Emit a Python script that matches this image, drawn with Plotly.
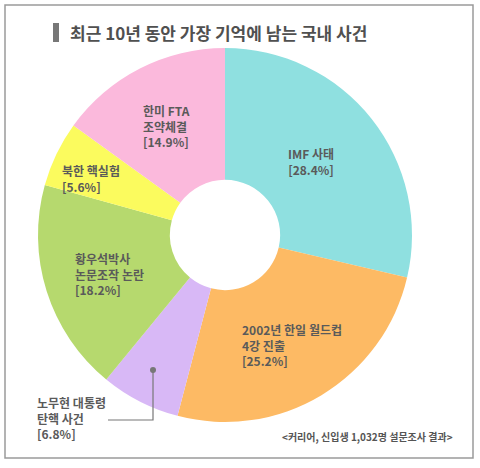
import plotly.graph_objects as go

# ---- data ----
categories = ["IMF 사태", "2002년 한일 월드컵<br>4강 진출", "노무현 대통령<br>탄핵 사건",
              "황우석박사<br>논문조작 논란", "북한 핵실험", "한미 FTA<br>조약체결"]
values = [28.4, 25.2, 6.8, 18.2, 5.6, 14.9]
colors = ["#8fe0e0", "#fdba64", "#d8b8f6", "#b6d96e", "#fbfb5e", "#fbb9dc"]

title_text = "최근 10년 동안 가장 기억에 남는 국내 사건"
source_text = "<커리어, 신입생 1,032명 설문조사 결과>"

W, H = 480, 468
FONT = "Noto Sans CJK KR, sans-serif"
TXT = "#5a5a5a"

def px(x):
    return x / W

def py(y):
    return 1 - y / H

cx, cy, r = 225, 235, 187

fig = go.Figure(go.Pie(
    labels=[c.replace("<br>", " ") for c in categories],
    values=values,
    sort=False,
    direction="clockwise",
    rotation=0,
    hole=0.295,
    marker=dict(colors=colors, line=dict(width=0)),
    textinfo="none",
    hoverinfo="label+value",
    domain=dict(x=[px(cx - r), px(cx + r)], y=[py(cy + r), py(cy - r)]),
    showlegend=False,
))

# label placement (x, y middle, anchor)
label_pos = [
    (311, 161, "center"),
    (240, 345, "left"),
    (35, 418, "left"),
    (73, 274, "left"),
    (60, 178, "left"),
    (141, 126, "left"),
]

annotations = []
for cat, v, (x, y, anc) in zip(categories, values, label_pos):
    annotations.append(dict(
        text=f"<b>{cat}<br>[{v}%]</b>", x=px(x), y=py(y), xref="paper", yref="paper",
        xanchor=anc, yanchor="middle", align="center" if anc == "center" else "left",
        showarrow=False, font=dict(family=FONT, size=12, color=TXT),
    ))

annotations.append(dict(
    text=f"<b>{title_text}</b>", x=px(68), y=py(33), xref="paper", yref="paper",
    xanchor="left", yanchor="middle", showarrow=False,
    font=dict(family=FONT, size=17, color="#505050"),
))
annotations.append(dict(
    text=f"<b>{source_text}</b>", x=px(455), y=py(436), xref="paper", yref="paper",
    xanchor="right", yanchor="middle", showarrow=False,
    font=dict(family=FONT, size=10, color="#555555"),
))

shapes = [
    # outer border
    dict(type="rect", xref="paper", yref="paper", x0=px(5), x1=px(473), y0=py(458), y1=py(5),
         line=dict(color="#9a9a9a", width=1.5)),
    # title bar
    dict(type="rect", xref="paper", yref="paper", x0=px(53), x1=px(59), y0=py(42), y1=py(23),
         fillcolor="#777777", line=dict(width=0)),
    # leader line for small slice
    dict(type="path", xref="paper", yref="paper",
         path=f"M {px(108)},{py(420)} L {px(153)},{py(420)} L {px(153)},{py(370)}",
         line=dict(color="#777777", width=1.2)),
    dict(type="circle", xref="paper", yref="paper", x0=px(150), x1=px(156), y0=py(373), y1=py(367),
         fillcolor="#777777", line=dict(width=0)),
]

fig.update_layout(
    width=W, height=H, margin=dict(l=0, r=0, t=0, b=0),
    paper_bgcolor="white", plot_bgcolor="white",
    annotations=annotations, shapes=shapes,
)

fig.write_html("out.html")
